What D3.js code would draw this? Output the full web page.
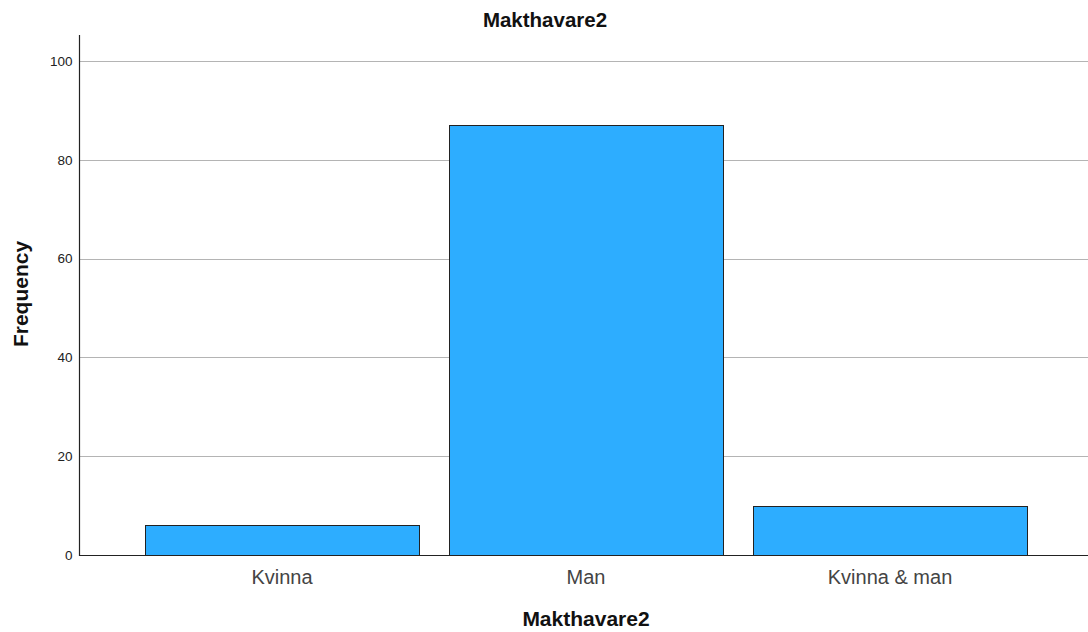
<!DOCTYPE html>
<html><head><meta charset="utf-8">
<script src="https://cdn.jsdelivr.net/npm/d3@7"></script>
<style>body{margin:0;background:#fff}svg{display:block}</style>
</head><body>
<svg id="c" width="1088" height="632"></svg>
<script>
const categories = ["Kvinna", "Man", "Kvinna & man"];
const frequencies = [6, 87, 10];
const yTicks = [0, 20, 40, 60, 80, 100];
const chartTitle = "Makthavare2";
const xTitle = "Makthavare2";
const yTitle = "Frequency";

(function () {
const svg = d3.select("#c");
const mLeft = 79, mRight = 1088, mTop = 35, mBottom = 555;
const y = d3.scaleLinear().domain([0, 100]).range([mBottom, 61]);
const x = d3.scaleBand().domain(categories).range([130, 1042]).paddingInner(0.1).paddingOuter(0.05);
const font = "Arial, 'Liberation Sans', sans-serif";

// gridlines
svg.append("g").selectAll("line").data(yTicks.filter(d => d > 0)).join("line")
  .attr("x1", mLeft).attr("x2", mRight)
  .attr("y1", d => Math.round(y(d)) + 0.5).attr("y2", d => Math.round(y(d)) + 0.5)
  .attr("stroke", "#b4b4b4").attr("stroke-width", 1);

// bars
svg.append("g").selectAll("rect").data(categories).join("rect")
  .attr("x", d => Math.round(x(d)) + 0.5)
  .attr("y", (d, i) => Math.round(y(frequencies[i])) + 0.5)
  .attr("width", Math.round(x.bandwidth()))
  .attr("height", (d, i) => Math.round(y(0)) - Math.round(y(frequencies[i])))
  .attr("fill", "#2dadff").attr("stroke", "#222").attr("stroke-width", 1);

// y axis
const ya = d3.axisLeft(y).tickValues(yTicks).tickSize(0).tickPadding(7);
const gy = svg.append("g").attr("transform", `translate(${mLeft + 0.5},0)`).call(ya);
gy.select(".domain").remove();
gy.selectAll("text").attr("font-family", font).attr("font-size", 13.5).attr("fill", "#222");
svg.append("line").attr("x1", mLeft + 0.5).attr("x2", mLeft + 0.5).attr("y1", mTop).attr("y2", mBottom + 1)
  .attr("stroke", "#222").attr("stroke-width", 1.2);

// x axis
const xa = d3.axisBottom(x).tickSize(0).tickPadding(14);
const gx = svg.append("g").attr("transform", `translate(0,${Math.round(y(0)) + 0.5})`).call(xa);
gx.select(".domain").remove();
gx.selectAll("text").attr("font-family", font).attr("font-size", 20).attr("fill", "#444");
svg.append("line").attr("x1", mLeft).attr("x2", mRight).attr("y1", Math.round(y(0)) + 0.5).attr("y2", Math.round(y(0)) + 0.5)
  .attr("stroke", "#222").attr("stroke-width", 1.2);

// titles
svg.append("text").attr("x", 545).attr("y", 27).attr("text-anchor", "middle")
  .attr("font-family", font).attr("font-weight", "bold").attr("font-size", 20.5).attr("fill", "#111").text(chartTitle);
svg.append("text").attr("x", 586).attr("y", 626).attr("text-anchor", "middle")
  .attr("font-family", font).attr("font-weight", "bold").attr("font-size", 21).attr("fill", "#111").text(xTitle);
svg.append("text").attr("transform", "translate(28,294) rotate(-90)").attr("text-anchor", "middle")
  .attr("font-family", font).attr("font-weight", "bold").attr("font-size", 21).attr("fill", "#111").text(yTitle);
})();
</script>
</body></html>
